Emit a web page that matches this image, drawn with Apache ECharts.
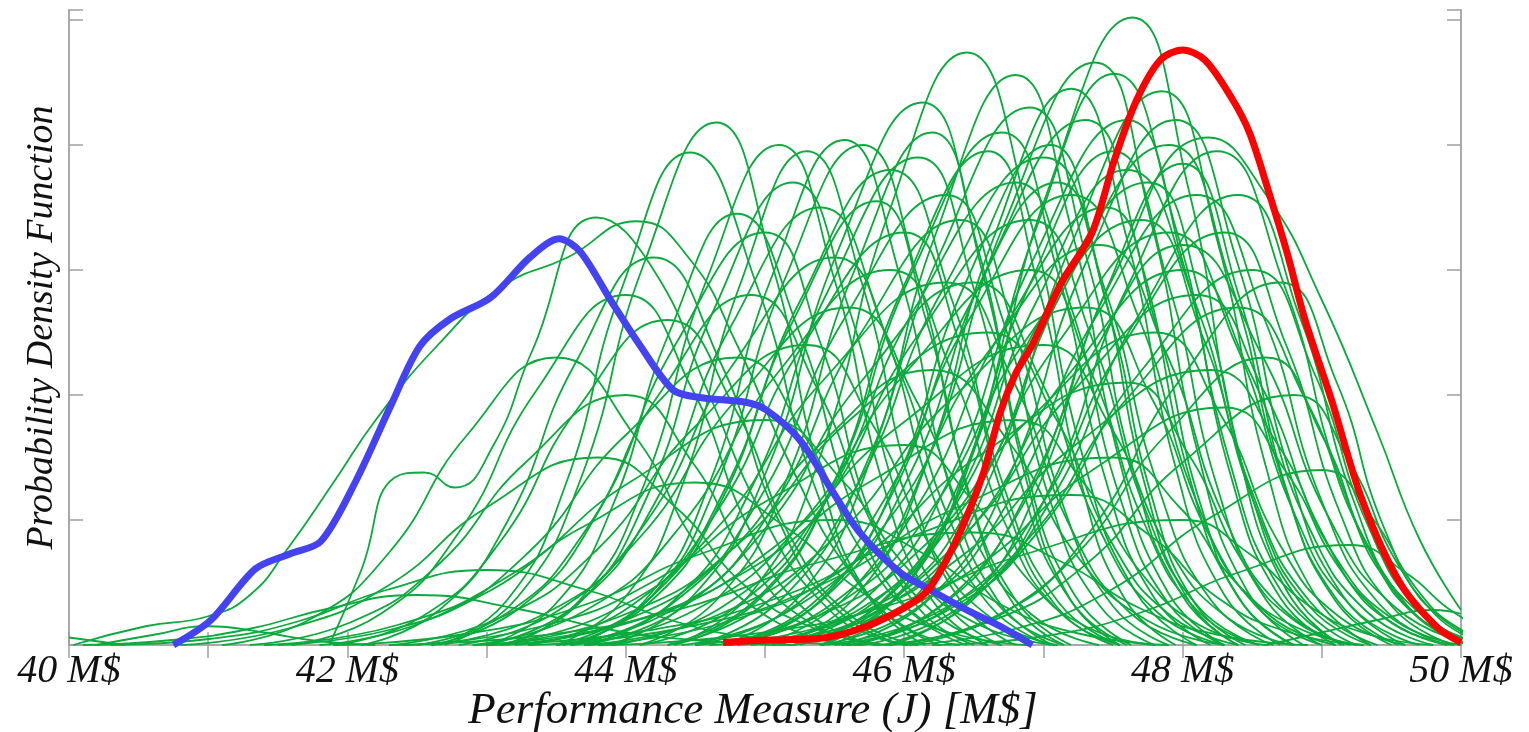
<!DOCTYPE html>
<html>
<head>
<meta charset="utf-8">
<script src="https://cdn.jsdelivr.net/npm/echarts@6/dist/echarts.min.js"></script>
<style>
  html, body { margin: 0; padding: 0; background: #fff; }
  #chart { width: 1529px; height: 732px; }
</style>
</head>
<body>
<div id="chart"></div>
<script>
// x in M$, y in density units (tick every 1)
var xMin = 40, xMax = 50;
var yMax = 5.08;
var xTickLabels = ['40 M$', '', '42 M$', '', '44 M$', '', '46 M$', '', '48 M$', '', '50 M$'];

var blueCurve = [[40.75,0],[41.02,0.2],[41.34,0.61],[41.59,0.73],[41.81,0.83],[42.06,1.31],[42.31,1.91],[42.52,2.39],[42.74,2.61],[43.03,2.78],[43.31,3.10],[43.52,3.25],[43.67,3.15],[43.89,2.76],[44.1,2.4],[44.34,2.04],[44.53,1.98],[44.87,1.94],[45.01,1.88],[45.25,1.64],[45.49,1.22],[45.68,0.9],[45.97,0.58],[46.19,0.44],[46.45,0.28],[46.69,0.15],[46.92,0]];

var redCurve = [[44.70,0.02],[45.01,0.04],[45.37,0.05],[45.73,0.15],[46.09,0.36],[46.21,0.5],[46.40,0.9],[46.57,1.38],[46.69,1.86],[46.80,2.17],[46.92,2.40],[47.13,2.9],[47.35,3.3],[47.51,3.88],[47.67,4.36],[47.84,4.68],[48.0,4.76],[48.16,4.68],[48.35,4.38],[48.48,4.1],[48.62,3.62],[48.75,3.14],[48.88,2.6],[49.07,1.96],[49.29,1.16],[49.56,0.5],[49.83,0.14],[50.0,0.02]];

var greenCurves = [
  [[45.39,0],[45.99,0.45],[46.52,1.61],[47.04,3.66],[47.64,5.02],[48.04,3.66],[48.39,1.61],[48.74,0.45],[49.14,0]],
  [[44.35,0],[44.91,0.43],[45.40,1.52],[45.89,3.46],[46.45,4.74],[46.89,3.46],[47.28,1.52],[47.66,0.43],[48.10,0]],
  [[43.88,0],[44.48,0.39],[45.01,1.39],[45.53,3.17],[46.13,4.34],[46.53,3.17],[46.88,1.39],[47.23,0.39],[47.63,0]],
  [[44.70,0],[45.26,0.41],[45.75,1.46],[46.24,3.33],[46.80,4.56],[47.20,3.33],[47.55,1.46],[47.90,0.41],[48.30,0]],
  [[44.97,0],[45.61,0.42],[46.17,1.49],[46.73,3.40],[47.37,4.66],[47.77,3.40],[48.12,1.49],[48.47,0.42],[48.87,0]],
  [[45.41,0],[45.97,0.41],[46.46,1.46],[46.95,3.34],[47.51,4.57],[47.95,3.34],[48.34,1.46],[48.72,0.41],[49.16,0]],
  [[45.45,0],[46.09,0.40],[46.65,1.42],[47.21,3.23],[47.85,4.43],[48.25,3.23],[48.60,1.42],[48.95,0.40],[49.35,0]],
  [[45.64,0],[46.32,0.37],[46.92,1.30],[47.51,2.96],[48.19,4.06],[48.6,3.6],[49.0,2.76],[49.4,1.7],[49.7,0.85],[50.0,0.28]],
  [[42.70,0],[43.22,0.38],[43.68,1.34],[44.13,3.05],[44.65,4.18],[45.05,3.05],[45.40,1.34],[45.75,0.38],[46.15,0]],
  [[42.66,0],[43.14,0.35],[43.56,1.26],[43.98,2.88],[44.46,3.94],[44.94,2.88],[45.36,1.26],[45.78,0.35],[46.26,0]],
  [[43.62,0],[44.14,0.36],[44.60,1.29],[45.05,2.95],[45.57,4.04],[45.97,2.95],[46.32,1.29],[46.67,0.36],[47.07,0]],
  [[41.87,0],[42.1,0.6],[42.34,1.34],[42.55,1.38],[42.77,1.26],[43.05,1.6],[43.33,2.36],[43.79,3.42],[44.2,3.0],[44.6,2.0],[45.0,1.0],[45.4,0.35],[45.8,0.06],[46.1,0]],
  [[40.03,0],[40.55,0.15],[41.0,0.23],[41.3,0.4],[41.57,0.77],[41.9,1.3],[42.21,1.81],[42.65,2.4],[43.1,2.86],[43.58,3.10],[44.08,3.39],[44.45,3.1],[44.8,2.4],[45.2,1.4],[45.6,0.6],[46.0,0.15],[46.4,0]],
  [[43.10,0],[43.66,0.33],[44.15,1.18],[44.64,2.70],[45.2,3.7],[45.6,2.70],[45.95,1.18],[46.3,0.33],[46.7,0]],
  [[43.5,0],[44.14,0.34],[44.7,1.22],[45.26,2.77],[45.9,3.8],[46.34,2.77],[46.73,1.22],[47.11,0.34],[47.55,0]],
  [[43.6,0],[44.32,0.32],[44.95,1.15],[45.58,2.63],[46.3,3.6],[46.7,2.63],[47.05,1.15],[47.4,0.32],[47.8,0]],
  [[44.3,0],[44.94,0.37],[45.5,1.31],[46.06,2.99],[46.7,4.1],[47.1,2.99],[47.45,1.31],[47.8,0.37],[48.2,0]],
  [[44.3,0],[45.02,0.35],[45.65,1.25],[46.28,2.85],[47.0,3.9],[47.44,2.85],[47.83,1.25],[48.21,0.35],[48.65,0]],
  [[44.75,0],[45.43,0.38],[46.03,1.34],[46.62,3.07],[47.3,4.2],[47.7,3.07],[48.05,1.34],[48.4,0.38],[48.8,0]],
  [[45.2,0],[45.84,0.34],[46.4,1.22],[46.96,2.77],[47.6,3.8],[48.08,2.77],[48.5,1.22],[48.92,0.34],[49.4,0]],
  [[45.2,0],[45.92,0.36],[46.55,1.28],[47.18,2.92],[47.9,4.0],[48.34,2.92],[48.73,1.28],[49.11,0.36],[49.55,0]],
  [[45.4,0],[46.12,0.32],[46.75,1.15],[47.38,2.63],[48.1,3.6],[48.58,2.63],[49.0,1.15],[49.42,0.32],[49.9,0]],
  [[45.1,0],[45.66,0.40],[46.15,1.42],[46.64,3.25],[47.2,4.45],[47.6,3.25],[47.95,1.42],[48.3,0.40],[48.7,0]],
  [[43.3,0],[44.02,0.30],[44.65,1.06],[45.28,2.41],[46.0,3.3],[46.4,2.41],[46.75,1.06],[47.1,0.30],[47.5,0]],
  [[42.8,0],[43.52,0.28],[44.15,0.99],[44.78,2.26],[45.5,3.1],[45.94,2.26],[46.33,0.99],[46.71,0.28],[47.15,0]],
  [[42.5,0],[43.14,0.25],[43.7,0.90],[44.26,2.04],[44.9,2.8],[45.38,2.04],[45.8,0.90],[46.22,0.25],[46.7,0]],
  [[43.9,0],[44.7,0.31],[45.4,1.09],[46.1,2.48],[46.9,3.4],[47.34,2.48],[47.73,1.09],[48.11,0.31],[48.55,0]],
  [[44.4,0],[45.2,0.29],[45.9,1.02],[46.6,2.34],[47.4,3.2],[47.88,2.34],[48.3,1.02],[48.72,0.29],[49.2,0]],
  [[45.0,0],[45.8,0.27],[46.5,0.96],[47.2,2.19],[48.0,3.0],[48.48,2.19],[48.9,0.96],[49.32,0.27],[49.8,0]],
  [[45.6,0],[46.32,0.30],[46.95,1.06],[47.58,2.41],[48.3,3.3],[48.74,2.41],[49.13,1.06],[49.51,0.30],[49.95,0]],
  [[43.5,0],[44.3,0.26],[45.0,0.93],[45.7,2.12],[46.5,2.9],[46.98,2.12],[47.4,0.93],[47.82,0.26],[48.3,0]],
  [[42.6,0],[43.24,0.30],[43.8,1.06],[44.36,2.41],[45.0,3.3],[45.4,2.41],[45.75,1.06],[46.1,0.30],[46.5,0]],
  [[43.55,0],[44.15,0.32],[44.68,1.14],[45.2,2.59],[45.8,3.55],[46.16,2.59],[46.48,1.14],[46.79,0.32],[47.15,0]],
  [[44.7,0],[45.34,0.33],[45.9,1.18],[46.46,2.70],[47.1,3.7],[47.46,2.70],[47.78,1.18],[48.09,0.33],[48.45,0]],
  [[45.4,0],[46.2,0.24],[46.9,0.86],[47.6,1.97],[48.4,2.7],[48.88,1.97],[49.3,0.86],[49.72,0.24],[50.2,0]],
  [[41.9,0],[42.54,0.23],[43.1,0.83],[43.66,1.90],[44.3,2.6],[44.78,1.90],[45.2,0.83],[45.62,0.23],[46.1,0]],
  [[42.3,0],[43.1,0.22],[43.8,0.77],[44.5,1.75],[45.3,2.4],[45.78,1.75],[46.2,0.77],[46.62,0.22],[47.1,0]],
  [[43.2,0],[44.0,0.20],[44.7,0.70],[45.4,1.61],[46.2,2.2],[46.76,1.61],[47.25,0.70],[47.74,0.20],[48.3,0]],
  [[44.5,0],[45.38,0.23],[46.15,0.80],[46.92,1.83],[47.8,2.5],[48.28,1.83],[48.7,0.80],[49.12,0.23],[49.6,0]],
  [[45.9,0],[46.62,0.21],[47.25,0.74],[47.88,1.68],[48.6,2.3],[49.0,1.68],[49.35,0.74],[49.7,0.21],[50.1,0]],
  [[41.3,0],[42.02,0.18],[42.65,0.64],[43.28,1.46],[44.0,2.0],[44.48,1.46],[44.9,0.64],[45.32,0.18],[45.8,0]],
  [[44.35,0],[44.95,0.36],[45.48,1.26],[46.0,2.88],[46.6,3.95],[46.96,2.88],[47.28,1.26],[47.59,0.36],[47.95,0]],
  [[44.75,0],[45.47,0.32],[46.1,1.12],[46.73,2.56],[47.45,3.5],[47.81,2.56],[48.13,1.12],[48.44,0.32],[48.8,0]],
  [[45.9,0],[46.46,0.35],[46.95,1.23],[47.44,2.81],[48.0,3.85],[48.4,2.81],[48.75,1.23],[49.1,0.35],[49.5,0]],
  [[43.6,0],[44.16,0.36],[44.65,1.28],[45.14,2.92],[45.7,4.0],[46.1,2.92],[46.45,1.28],[46.8,0.36],[47.2,0]],
  [[41.5,0],[42.3,0.12],[43.0,0.42],[43.7,0.95],[44.5,1.3],[45.14,0.95],[45.7,0.42],[46.26,0.12],[46.9,0]],
  [[40.3,0],[41.02,0.05],[41.65,0.19],[42.28,0.44],[43.0,0.6],[43.72,0.44],[44.35,0.19],[44.98,0.05],[45.7,0]],
  [[40.1,0],[40.74,0.04],[41.3,0.13],[41.86,0.29],[42.5,0.4],[43.22,0.29],[43.85,0.13],[44.48,0.04],[45.2,0]],
  [[41.9,0],[42.86,0.09],[43.7,0.32],[44.54,0.73],[45.5,1.0],[46.14,0.73],[46.7,0.32],[47.26,0.09],[47.9,0]],
  [[40.2,0],[40.6,0.08],[41.0,0.15],[41.4,0.1],[41.8,0.03],[42.2,0]],
  [[40.0,0.06],[40.2,0.03],[40.4,0]],
  [[41.6,0],[42.24,0.25],[42.8,0.90],[43.36,2.04],[44.0,2.8],[44.48,2.04],[44.9,0.90],[45.32,0.25],[45.8,0]],
  [[43.0,0],[43.48,0.31],[43.9,1.10],[44.32,2.52],[44.8,3.45],[45.24,2.52],[45.63,1.10],[46.01,0.31],[46.45,0]],
  [[48.6,0],[49.0,0.1],[49.4,0.2],[49.8,0.28],[50.0,0.25]],
  [[45.6,0],[46.24,0.29],[46.8,1.02],[47.36,2.34],[48.0,3.2],[48.56,2.34],[49.05,1.02],[49.54,0.29],[50.1,0]],
  [[42.9,0],[43.94,0.16],[44.85,0.58],[45.76,1.31],[46.8,1.8],[47.28,1.31],[47.7,0.58],[48.12,0.16],[48.6,0]],
  [[43.3,0],[44.42,0.14],[45.4,0.48],[46.38,1.10],[47.5,1.5],[47.98,1.10],[48.4,0.48],[48.82,0.14],[49.3,0]],
  [[44.7,0],[45.66,0.17],[46.5,0.61],[47.34,1.39],[48.3,1.9],[48.74,1.39],[49.13,0.61],[49.51,0.17],[49.95,0]],
  [[42.4,0],[43.36,0.14],[44.2,0.51],[45.04,1.17],[46.0,1.6],[46.48,1.17],[46.9,0.51],[47.32,0.14],[47.8,0]],
  [[46.0,0],[46.8,0.13],[47.5,0.45],[48.2,1.02],[49.0,1.4],[49.36,1.02],[49.68,0.45],[49.99,0.13],[50.35,0]],
  [[42.9,0],[43.7,0.27],[44.4,0.96],[45.1,2.19],[45.9,3.0],[46.34,2.19],[46.73,0.96],[47.11,0.27],[47.55,0]],
  [[43.7,0],[44.42,0.31],[45.05,1.09],[45.68,2.48],[46.4,3.4],[46.8,2.48],[47.15,1.09],[47.5,0.31],[47.9,0]],
  [[43.6,0],[44.48,0.27],[45.25,0.96],[46.02,2.19],[46.9,3.0],[47.34,2.19],[47.73,0.96],[48.11,0.27],[48.55,0]],
  [[44.5,0],[45.22,0.32],[45.85,1.15],[46.48,2.63],[47.2,3.6],[47.68,2.63],[48.1,1.15],[48.52,0.32],[49.0,0]],
  [[45.05,0],[45.73,0.38],[46.33,1.34],[46.92,3.07],[47.6,4.2],[48.0,3.07],[48.35,1.34],[48.7,0.38],[49.1,0]],
  [[44.7,0],[45.5,0.31],[46.2,1.09],[46.9,2.48],[47.7,3.4],[48.14,2.48],[48.53,1.09],[48.91,0.31],[49.35,0]],
  [[45.55,0],[46.19,0.38],[46.75,1.34],[47.31,3.07],[47.95,4.2],[48.39,3.07],[48.78,1.34],[49.16,0.38],[49.6,0]],
  [[44.8,0],[45.68,0.25],[46.45,0.90],[47.22,2.04],[48.1,2.8],[48.58,2.04],[49.0,0.90],[49.42,0.25],[49.9,0]],
  [[45.7,0],[46.42,0.32],[47.05,1.15],[47.68,2.63],[48.4,3.6],[48.84,2.63],[49.23,1.15],[49.61,0.32],[50.05,0]],
  [[43.7,0],[44.34,0.35],[44.9,1.25],[45.46,2.85],[46.1,3.9],[46.5,2.85],[46.85,1.25],[47.2,0.35],[47.6,0]],
  [[43.0,0],[43.64,0.32],[44.2,1.12],[44.76,2.56],[45.4,3.5],[45.84,2.56],[46.23,1.12],[46.61,0.32],[47.05,0]],
  [[41.8,0],[42.6,0.21],[43.3,0.74],[44.0,1.68],[44.8,2.3],[45.28,1.68],[45.7,0.74],[46.12,0.21],[46.6,0]],
  [[43.0,0],[43.96,0.23],[44.8,0.80],[45.64,1.83],[46.6,2.5],[47.08,1.83],[47.5,0.80],[47.92,0.23],[48.4,0]],
  [[43.7,0],[44.66,0.24],[45.5,0.86],[46.34,1.97],[47.3,2.7],[47.78,1.97],[48.2,0.86],[48.62,0.24],[49.1,0]],
  [[44.9,0],[45.7,0.30],[46.4,1.06],[47.1,2.41],[47.9,3.3],[48.38,2.41],[48.8,1.06],[49.22,0.30],[49.7,0]],
  [[44.6,0],[45.56,0.20],[46.4,0.70],[47.24,1.61],[48.2,2.2],[48.68,1.61],[49.1,0.70],[49.52,0.20],[50.0,0]],
  [[44.1,0],[44.66,0.37],[45.15,1.31],[45.64,2.99],[46.2,4.1],[46.56,2.99],[46.88,1.31],[47.19,0.37],[47.55,0]],
  [[44.5,0],[45.14,0.39],[45.7,1.38],[46.26,3.14],[46.9,4.3],[47.3,3.14],[47.65,1.38],[48.0,0.39],[48.4,0]],
  [[45.25,0],[45.85,0.36],[46.38,1.26],[46.9,2.88],[47.5,3.95],[47.9,2.88],[48.25,1.26],[48.6,0.36],[49.0,0]],
  [[43.15,0],[43.67,0.36],[44.13,1.28],[44.58,2.92],[45.1,4.0],[45.5,2.92],[45.85,1.28],[46.2,0.36],[46.6,0]],
  [[42.6,0],[43.4,0.24],[44.1,0.86],[44.8,1.97],[45.6,2.7],[46.08,1.97],[46.5,0.86],[46.92,0.24],[47.4,0]],
  [[43.0,0],[43.88,0.26],[44.65,0.93],[45.42,2.12],[46.3,2.9],[46.78,2.12],[47.2,0.93],[47.62,0.26],[48.1,0]],
  [[43.1,0],[44.14,0.22],[45.05,0.77],[45.96,1.75],[47.0,2.4],[47.48,1.75],[47.9,0.77],[48.32,0.22],[48.8,0]],
  [[43.7,0],[44.74,0.19],[45.65,0.67],[46.56,1.53],[47.6,2.1],[48.04,1.53],[48.43,0.67],[48.81,0.19],[49.25,0]],
  [[45.5,0],[46.3,0.27],[47.0,0.96],[47.7,2.19],[48.5,3.0],[48.94,2.19],[49.33,0.96],[49.71,0.27],[50.15,0]],
  [[45.8,0],[46.6,0.18],[47.3,0.64],[48.0,1.46],[48.8,2.0],[49.2,1.46],[49.55,0.64],[49.9,0.18],[50.3,0]],
  [[41.4,0],[42.36,0.16],[43.2,0.58],[44.04,1.31],[45.0,1.8],[45.56,1.31],[46.05,0.58],[46.54,0.16],[47.1,0]],
  [[40.8,0],[41.6,0.14],[42.3,0.48],[43.0,1.10],[43.8,1.5],[44.36,1.10],[44.85,0.48],[45.34,0.14],[45.9,0]],
  [[43.0,0],[44.12,0.11],[45.1,0.38],[46.08,0.88],[47.2,1.2],[47.76,0.88],[48.25,0.38],[48.74,0.11],[49.3,0]],
  [[43.8,0],[44.92,0.09],[45.9,0.32],[46.88,0.73],[48.0,1.0],[48.48,0.73],[48.9,0.32],[49.32,0.09],[49.8,0]],
  [[42.3,0],[43.42,0.08],[44.4,0.29],[45.38,0.66],[46.5,0.9],[47.14,0.66],[47.7,0.29],[48.26,0.08],[48.9,0]],
  [[42.1,0],[42.66,0.28],[43.15,0.99],[43.64,2.26],[44.2,3.1],[44.68,2.26],[45.1,0.99],[45.52,0.28],[46.0,0]],
  [[43.5,0],[43.98,0.36],[44.4,1.26],[44.82,2.88],[45.3,3.95],[45.7,2.88],[46.05,1.26],[46.4,0.36],[46.8,0]],
  [[44.1,0],[44.82,0.33],[45.45,1.18],[46.08,2.70],[46.8,3.7],[47.2,2.70],[47.55,1.18],[47.9,0.33],[48.3,0]],
  [[45.05,0],[45.77,0.33],[46.4,1.18],[47.03,2.70],[47.75,3.7],[48.15,2.70],[48.5,1.18],[48.85,0.33],[49.25,0]],
  [[45.85,0],[46.49,0.36],[47.05,1.26],[47.61,2.88],[48.25,3.95],[48.73,2.88],[49.15,1.26],[49.57,0.36],[50.05,0]],
  [[44.8,0],[45.4,0.36],[45.93,1.28],[46.45,2.92],[47.05,4.0],[47.41,2.92],[47.73,1.28],[48.04,0.36],[48.4,0]],
  [[46.0,0],[46.72,0.26],[47.35,0.93],[47.98,2.12],[48.7,2.9],[49.1,2.12],[49.45,0.93],[49.8,0.26],[50.2,0]],
  [[41.1,0],[41.74,0.21],[42.3,0.74],[42.86,1.68],[43.5,2.3],[44.06,1.68],[44.55,0.74],[45.04,0.21],[45.6,0]],
  [[46.2,0],[47.0,0.07],[47.7,0.26],[48.4,0.58],[49.2,0.8],[49.6,0.58],[49.95,0.26],[50.3,0.07],[50.7,0]]
];

var chart = echarts.init(document.getElementById('chart'));

var serifFont = '"Liberation Serif", "Times New Roman", serif';
var frameLine = { show: true, lineStyle: { color: '#aaaaaa', width: 2 } };
var frameTick = { show: true, inside: true, length: 13, lineStyle: { color: '#a0a0a0', width: 1.5 } };
var sideTick = { show: true, inside: true, length: 14, lineStyle: { color: '#a0a0a0', width: 1.5 } };

var series = greenCurves.map(function (pts) {
    return {
        type: 'line',
        data: pts,
        smooth: 0.5,
        showSymbol: false,
        silent: true,
        lineStyle: { color: '#0aab3c', width: 1.8 },
        z: 2
    };
});
series.push({
    type: 'line', data: blueCurve, smooth: 0.3, showSymbol: false, silent: true,
    lineStyle: { color: '#4343f2', width: 7 }, z: 3
});
series.push({
    type: 'line', data: redCurve, smooth: 0.3, showSymbol: false, silent: true,
    lineStyle: { color: '#ff0000', width: 7 }, z: 4
});

var option = {
    animation: false,
    backgroundColor: '#ffffff',
    grid: { left: 69, right: 68, top: 10, bottom: 87, containLabel: false, outerBoundsMode: 'none' },
    xAxis: [{
        type: 'value',
        min: xMin, max: xMax, interval: 1,
        position: 'bottom',
        axisLine: frameLine,
        axisTick: frameTick,
        splitLine: { show: false },
        axisLabel: {
            margin: 6,
            fontFamily: serifFont, fontStyle: 'italic', fontSize: 40, color: '#111',
            formatter: function (v) { return xTickLabels[Math.round(v - xMin)] || ''; }
        },
        name: 'Performance Measure (J) [M$]',
        nameLocation: 'middle',
        nameGap: 44,
        nameMoveOverlap: false,
        nameTextStyle: {
            fontFamily: serifFont, fontStyle: 'italic', fontSize: 45, color: '#111',
            padding: [0, 24, 0, 0]
        }
    }, {
        type: 'value',
        min: xMin, max: xMax, interval: 1,
        position: 'top',
        axisLine: frameLine,
        axisTick: frameTick,
        axisLabel: { show: false },
        splitLine: { show: false }
    }],
    yAxis: [{
        type: 'value',
        min: 0, max: yMax, interval: 1,
        position: 'left',
        axisLine: frameLine,
        axisTick: sideTick,
        axisLabel: { show: false },
        splitLine: { show: false },
        name: 'Probability Density Function',
        nameLocation: 'middle',
        nameGap: 8,
        nameMoveOverlap: false,
        nameTextStyle: { fontFamily: serifFont, fontStyle: 'italic', fontSize: 38, color: '#111' }
    }, {
        type: 'value',
        min: 0, max: yMax, interval: 1,
        position: 'right',
        axisLine: frameLine,
        axisTick: sideTick,
        axisLabel: { show: false },
        splitLine: { show: false }
    }],
    series: series
};

chart.setOption(option);
</script>
</body>
</html>
